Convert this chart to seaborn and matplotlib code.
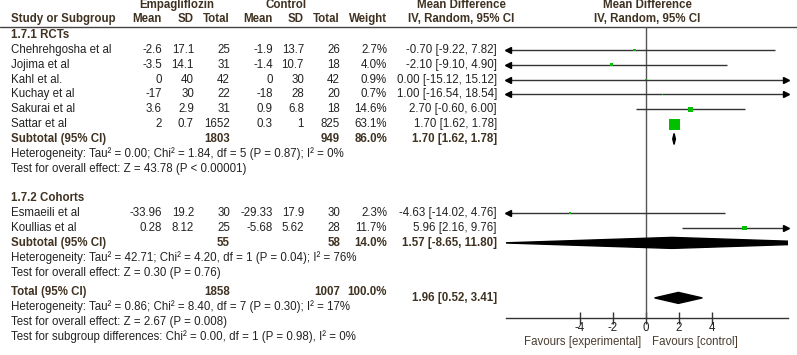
import numpy as np
import pandas as pd
import matplotlib
matplotlib.use("Agg")
import matplotlib.pyplot as plt
import seaborn as sns

# study level data
studies = ["Chehrehgosha et al", "Jojima et al", "Kahl et al.", "Kuchay et al",
           "Sakurai et al", "Sattar et al", "Esmaeili et al", "Koullias et al"]
study_rows = [1, 2, 3, 4, 5, 6, 12, 13]
emp_mean = [-2.6, -3.5, 0, -17, 3.6, 2, -33.96, 0.28]
emp_sd = [17.1, 14.1, 40, 30, 2.9, 0.7, 19.2, 8.12]
emp_n = [25, 31, 42, 22, 31, 1652, 30, 25]
ctl_mean = [-1.9, -1.4, 0, -18, 0.9, 0.3, -29.33, -5.68]
ctl_sd = [13.7, 10.7, 30, 28, 6.8, 1, 17.9, 5.62]
ctl_n = [26, 18, 42, 20, 18, 825, 30, 28]
weights = [2.7, 4.0, 0.9, 0.7, 14.6, 63.1, 2.3, 11.7]
md = [-0.70, -2.10, 0.00, 1.00, 2.70, 1.70, -4.63, 5.96]
ci_lo = [-9.22, -9.10, -15.12, -16.54, -0.60, 1.62, -14.02, 2.16]
ci_hi = [7.82, 4.90, 15.12, 18.54, 6.00, 1.78, 4.76, 9.76]

# pooled estimates
pooled_labels = ["Subtotal (95% CI)", "Subtotal (95% CI)", "Total (95% CI)"]
pooled_rows = [7, 14, 17.3]
pooled_emp_n = [1803, 55, 1858]
pooled_ctl_n = [949, 58, 1007]
pooled_weight = [86.0, 14.0, 100.0]
pooled_md = [1.70, 1.57, 1.96]
pooled_lo = [1.62, -8.65, 0.52]
pooled_hi = [1.78, 11.80, 3.41]

group_labels = ["1.7.1 RCTs", "1.7.2 Cohorts"]
group_rows = [0, 11]

stat_lines = [
    "Heterogeneity: Tau² = 0.00; Chi² = 1.84, df = 5 (P = 0.87); I² = 0%",
    "Test for overall effect: Z = 43.78 (P < 0.00001)",
    "Heterogeneity: Tau² = 42.71; Chi² = 4.20, df = 1 (P = 0.04); I² = 76%",
    "Test for overall effect: Z = 0.30 (P = 0.76)",
    "Heterogeneity: Tau² = 0.86; Chi² = 8.40, df = 7 (P = 0.30); I² = 17%",
    "Test for overall effect: Z = 2.67 (P = 0.008)",
    "Test for subgroup differences: Chi² = 0.00, df = 1 (P = 0.98), I² = 0%",
]
stat_rows = [8, 9, 15, 16, 18.3, 19.3, 20.3]

xticks = [-4, -2, 0, 2, 4]

# layout (pixels)
W, H = 797, 355
Y0, DY = 35, 14.85
AX_L, AX_R, AX_TOP, AX_BOT = 506, 788, 27, 318
XMIN, XMAX = -8.48, 8.6
TOTAL_SHIFT = 6  # total diamond sits a little lower than its row text


def ry(r):
    return Y0 + r * DY


sns.set_style("white")
plt.rcParams["font.family"] = ["Liberation Sans", "DejaVu Sans"]
FS = 8.3
HEAD = "#3f3222"
TXT = "#222222"

fig = plt.figure(figsize=(W / 100, H / 100), dpi=100)
tx = fig.add_axes([0, 0, 1, 1])
tx.set_xlim(0, W)
tx.set_ylim(H, 0)
tx.axis("off")

# header
tx.text(177, 5, "Empagliflozin", ha="center", va="center", fontsize=FS, weight="bold", color=HEAD)
tx.text(286, 5, "Control", ha="center", va="center", fontsize=FS, weight="bold", color=HEAD)
tx.text(461, 5, "Mean Difference", ha="center", va="center", fontsize=FS, weight="bold", color=HEAD)
tx.text(461, 19, "IV, Random, 95% CI", ha="center", va="center", fontsize=FS, weight="bold", color=HEAD)
tx.text(647, 5, "Mean Difference", ha="center", va="center", fontsize=FS, weight="bold", color=HEAD)
tx.text(647, 19, "IV, Random, 95% CI", ha="center", va="center", fontsize=FS, weight="bold", color=HEAD)
tx.text(11, 19, "Study or Subgroup", ha="left", va="center", fontsize=FS, weight="bold", color=HEAD)
cols = [162, 194, 230, 273, 304, 340, 387]
for x, h in zip(cols, ["Mean", "SD", "Total", "Mean", "SD", "Total", "Weight"]):
    tx.text(x, 19, h, ha="right", va="center", fontsize=FS, weight="bold", color=HEAD)
tx.axhline(AX_TOP, color="#444444", lw=1)

for lab, r in zip(group_labels, group_rows):
    tx.text(11, ry(r), lab, ha="left", va="center", fontsize=FS, weight="bold", color=HEAD)

for i, name in enumerate(studies):
    y = ry(study_rows[i])
    tx.text(11, y, name, ha="left", va="center", fontsize=FS, color=TXT)
    vals = [f"{emp_mean[i]:g}", f"{emp_sd[i]:g}", f"{emp_n[i]}",
            f"{ctl_mean[i]:g}", f"{ctl_sd[i]:g}", f"{ctl_n[i]}", f"{weights[i]:.1f}%"]
    for x, v in zip(cols, vals):
        tx.text(x, y, v, ha="right", va="center", fontsize=FS, color=TXT)
    tx.text(497, y, f"{md[i]:.2f} [{ci_lo[i]:.2f}, {ci_hi[i]:.2f}]",
            ha="right", va="center", fontsize=FS, color=TXT)

diamond_y = []
for i, lab in enumerate(pooled_labels):
    y = ry(pooled_rows[i])
    yd = y + (TOTAL_SHIFT if lab.startswith("Total") else 0)
    diamond_y.append(yd)
    tx.text(11, y, lab, ha="left", va="center", fontsize=FS, weight="bold", color=HEAD)
    tx.text(cols[2], y, f"{pooled_emp_n[i]}", ha="right", va="center", fontsize=FS, weight="bold", color=HEAD)
    tx.text(cols[5], y, f"{pooled_ctl_n[i]}", ha="right", va="center", fontsize=FS, weight="bold", color=HEAD)
    tx.text(cols[6], y, f"{pooled_weight[i]:.1f}%", ha="right", va="center", fontsize=FS, weight="bold", color=HEAD)
    tx.text(497, yd, f"{pooled_md[i]:.2f} [{pooled_lo[i]:.2f}, {pooled_hi[i]:.2f}]",
            ha="right", va="center", fontsize=FS, weight="bold", color=HEAD)

for s, r in zip(stat_lines, stat_rows):
    tx.text(11, ry(r), s, ha="left", va="center", fontsize=FS, color=TXT)

# forest panel
ax = fig.add_axes([AX_L / W, 1 - AX_BOT / H, (AX_R - AX_L) / W, (AX_BOT - AX_TOP) / H])
ax.set_xlim(XMIN, XMAX)
ax.set_ylim(AX_BOT, AX_TOP)
ax.patch.set_alpha(0)
for sp in ["left", "right", "top"]:
    ax.spines[sp].set_visible(False)
ax.spines["bottom"].set_color("#333333")
ax.spines["bottom"].set_linewidth(1)
ax.set_yticks([])
ax.set_xticks(xticks)
ax.set_xticklabels([str(t) for t in xticks])
ax.tick_params(axis="x", direction="inout", length=8, width=1, color="#333333",
               labelsize=FS, labelcolor=TXT, pad=-1, bottom=True)
ax.axvline(0, color="#555555", lw=1, zorder=1)

df = pd.DataFrame({"md": md, "lo": ci_lo, "hi": ci_hi, "w": weights,
                   "y": [ry(r) for r in study_rows]})
for _, row in df.iterrows():
    a = max(row.lo, XMIN)
    b = min(row.hi, XMAX)
    ax.plot([a, b], [row.y, row.y], color="#333333", lw=1, zorder=2, solid_capstyle="butt")
    if row.lo < XMIN:
        ax.plot(XMIN + 0.15, row.y, marker="<", ms=4.5, color="black", clip_on=False, zorder=3)
    if row.hi > XMAX:
        ax.plot(XMAX - 0.15, row.y, marker=">", ms=4.5, color="black", clip_on=False, zorder=3)

sns.scatterplot(data=df, x="md", y="y", size="w", sizes=(min(weights), max(weights)),
                size_norm=(min(weights), max(weights)), marker="s", color="#00c000",
                linewidth=0, legend=False, ax=ax, zorder=4)

for i in range(len(pooled_md)):
    y = diamond_y[i]
    hh = 5.5
    xs = [pooled_lo[i], pooled_md[i], pooled_hi[i], pooled_md[i]]
    ys = [y, y - hh, y, y + hh]
    ax.fill(xs, ys, color="black", zorder=5)

ax.set_xlabel("")
ax.set_ylabel("")

tx.text(641, 341.5, "Favours [experimental]", ha="right", va="center", fontsize=FS, color="#4a3d30")
tx.text(652, 341.5, "Favours [control]", ha="left", va="center", fontsize=FS, color="#4a3d30")

fig.savefig("out.png", dpi=100)
